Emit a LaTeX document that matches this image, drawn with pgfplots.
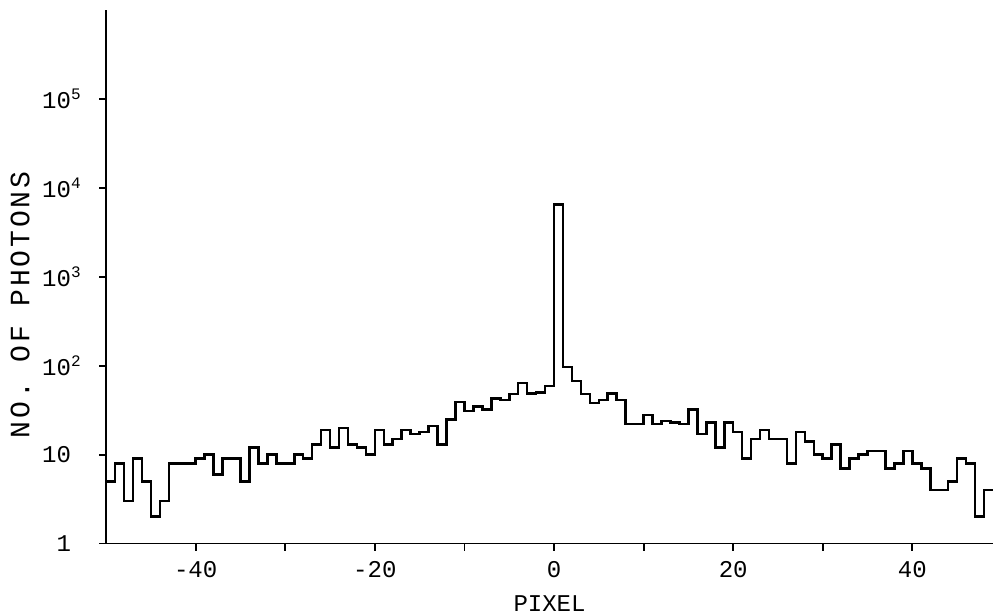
\documentclass[border=0pt]{standalone}
\usepackage{fontspec}
\setmainfont{Liberation Mono}
\usepackage{pgfplots}
\pgfplotsset{compat=1.18}

% photon counts per pixel bin, x = left edge of the bin
\pgfplotstableread{
x y
-50 5
-49 8
-48 3
-47 9
-46 5
-45 2
-44 3
-43 8
-42 8
-41 8
-40 9
-39 10
-38 6
-37 9
-36 9
-35 5
-34 12
-33 8
-32 10
-31 8
-30 8
-29 10
-28 9
-27 13
-26 19
-25 12
-24 20
-23 13
-22 12
-21 10
-20 19
-19 13
-18 15
-17 19
-16 17
-15 18
-14 21
-13 13
-12 25
-11 39
-10 31
-9 35
-8 32
-7 43
-6 41
-5 48
-4 64
-3 49
-2 50
-1 59
0 6500
1 97
2 67
3 48
4 38
5 41
6 49
7 41
8 22
9 22
10 28
11 22
12 24
13 23
14 22
15 32
16 17
17 23
18 12
19 23
20 18
21 9
22 15
23 19
24 15
25 15
26 8
27 18
28 14
29 10
30 9
31 13
32 7
33 9
34 10
35 11
36 11
37 7
38 8
39 11
40 8
41 7
42 4
43 4
44 5
45 9
46 8
47 2
48 4
49 4
}\photons

\begin{document}
\begin{tikzpicture}
\path[use as bounding box] (-53pt,-35pt) rectangle (443pt,271.5pt);
\begin{axis}[
    scale only axis,
    width=443pt,
    height=266.5pt,
    xmin=-50, xmax=49,
    ymin=1, ymax=1e6,
    ymode=log,
    axis x line=bottom,
    axis y line=left,
    axis line style={-, line width=0.9pt},
    tick style={black, line width=0.9pt},
    tick align=outside,
    major tick length=3.5pt,
    yminorticks=false,
    xtick={-40,-30,...,40},
    xticklabels={-40,,-20,,0,,20,,40},
    ytick={1,10,100,1000,10000,100000},
    yticklabels={1,10,{10\rlap{\textsuperscript{2}}},{10\rlap{\textsuperscript{3}}},{10\rlap{\textsuperscript{4}}},{10\rlap{\textsuperscript{5}}}},
    tick label style={font=\fontsize{12}{14}\selectfont},
    yticklabel style={xshift=-10.5pt},
    xticklabel style={yshift=-2pt},
    xlabel={PIXEL},
    ylabel={NO. OF PHOTONS},
    xlabel style={at={(axis description cs:0.5,-0.113)}, anchor=center, font=\fontsize{12}{14}\selectfont},
    ylabel style={at={(axis description cs:-0.097,0.447)}, anchor=center,
        font=\fontsize{14}{16}\selectfont\addfontfeature{LetterSpace=10}},
]
\addplot[const plot, black, line width=1.3pt] table {\photons};
\end{axis}
\end{tikzpicture}
\end{document}
